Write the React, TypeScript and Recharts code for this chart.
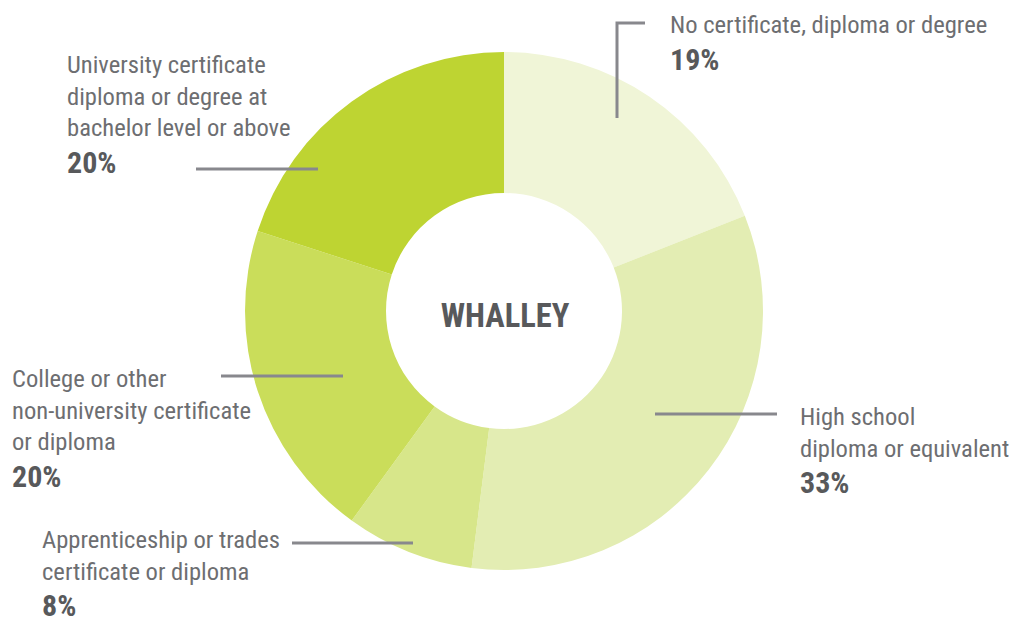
import React from 'react';
import { PieChart, Pie, Cell } from 'recharts';

const categories = [
  'No certificate, diploma or degree',
  'High school diploma or equivalent',
  'Apprenticeship or trades certificate or diploma',
  'College or other non-university certificate or diploma',
  'University certificate diploma or degree at bachelor level or above',
];
const shares = [19, 33, 8, 20, 20];
const labelLines = [
  ['No certificate, diploma or degree'],
  ['High school', 'diploma or equivalent'],
  ['Apprenticeship or trades', 'certificate or diploma'],
  ['College or other', 'non-university certificate', 'or diploma'],
  ['University certificate', 'diploma or degree at', 'bachelor level or above'],
];
const colors = ['#f0f5d7', '#e3edb3', '#d7e68a', '#cadd5a', '#bed432'];
const centerTitle = 'WHALLEY';

const data = categories.map((name, i) => ({ name, value: shares[i] }));

// label layout, offsets from the pie centre
const layout = [
  { line: [[113, -193], [113, -288], [141, -288]], tx: 166, ty: -278 },
  { line: [[151, 103], [273, 103]], tx: 296, ty: 114 },
  { line: [[-91, 232], [-212, 232]], tx: -462, ty: 237 },
  { line: [[-161, 65], [-283, 65]], tx: -492, ty: 76 },
  { line: [[-186, -142], [-308, -142]], tx: -437, ty: -238 },
];

const FONT = "'Liberation Sans Narrow', 'Roboto Condensed', 'Arial Narrow', Roboto, sans-serif";
const LINE_H = 31.5;

const renderLabel = (props: any) => {
  const { cx, cy, index } = props;
  const l = layout[index];
  const pts = l.line.map(([x, y]) => `${cx + x},${cy + y}`).join(' ');
  const lines = labelLines[index];
  return (
    <g key={`lbl-${index}`}>
      <polyline points={pts} fill="none" stroke="#88888d" strokeWidth={3} />
      <text x={cx + l.tx} y={cy + l.ty} fontFamily={FONT} fontSize={24.6} fill="#6d6e71">
        {lines.map((t, k) => (
          <tspan key={k} x={cx + l.tx} y={cy + l.ty + k * LINE_H}>{t}</tspan>
        ))}
        <tspan
          x={cx + l.tx}
          y={cy + l.ty + (lines.length - 1) * LINE_H + 36.5}
          fontWeight="bold"
          fontSize={30}
          fill="#58595b"
        >
          {`${shares[index]}%`}
        </tspan>
      </text>
    </g>
  );
};

export default function App() {
  return (
    <div style={{ width: 1015, height: 623, background: '#fff' }}>
      <style>{'body{margin:0}'}</style>
      <PieChart width={1015} height={623} margin={{ top: 0, right: 0, bottom: 0, left: 0 }}>
        <Pie
          data={data}
          dataKey="value"
          nameKey="name"
          cx={504}
          cy={311}
          innerRadius={118}
          outerRadius={259}
          startAngle={90}
          endAngle={-270}
          stroke="none"
          labelLine={false}
          label={renderLabel}
          isAnimationActive={false}
        >
          {data.map((d, i) => (
            <Cell key={d.name} fill={colors[i]} />
          ))}
        </Pie>
        <text
          x={505}
          y={327}
          textAnchor="middle"
          fontFamily={FONT}
          fontWeight="bold"
          fontSize={32.5}
          fill="#58595b"
        >
          {centerTitle}
        </text>
      </PieChart>
    </div>
  );
}
